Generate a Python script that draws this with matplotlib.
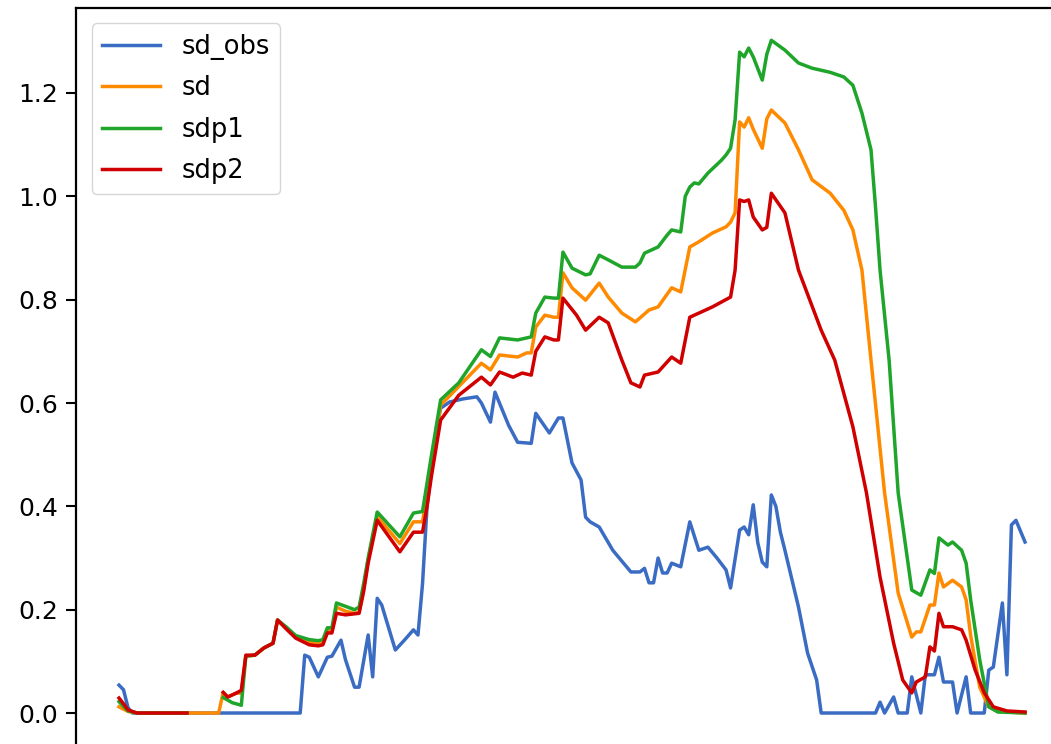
import numpy as np
import matplotlib
matplotlib.use("Agg")
import matplotlib.pyplot as plt

# Observed snow depth (day index, value)
obs_day = [0, 1, 2, 3, 40, 41, 42, 44, 46, 47, 49, 50, 52, 53, 55, 56, 57, 58, 61, 63,
           65, 66, 67, 68, 70, 71, 73, 76, 79, 80, 82, 83, 86, 88, 91, 92, 95, 97, 98, 100,
           102, 103, 104, 106, 109, 113, 115, 116, 117, 118, 119, 120, 121, 122, 124, 126, 128, 130, 132, 134,
           135, 137, 138, 139, 140, 141, 142, 143, 144, 145, 146, 147, 150, 152, 154, 155, 167, 168, 169, 171,
           172, 174, 175, 177, 178, 180, 181, 182, 184, 185, 187, 188, 191, 192, 193, 195, 196, 197, 198, 200]
sd_obs = [0.054, 0.045, 0.010, 0.0, 0.0, 0.112, 0.108, 0.070, 0.108, 0.110, 0.141, 0.103, 0.050, 0.050, 0.151, 0.070, 0.222, 0.209, 0.122, 0.141,
          0.161, 0.151, 0.250, 0.400, 0.548, 0.590, 0.602, 0.608, 0.612, 0.600, 0.563, 0.621, 0.557, 0.524, 0.522, 0.580, 0.542, 0.571, 0.571, 0.484,
          0.451, 0.379, 0.370, 0.360, 0.315, 0.273, 0.273, 0.280, 0.252, 0.252, 0.300, 0.271, 0.271, 0.290, 0.283, 0.370, 0.315, 0.321, 0.300, 0.277,
          0.242, 0.354, 0.360, 0.345, 0.403, 0.330, 0.292, 0.283, 0.422, 0.400, 0.350, 0.315, 0.205, 0.116, 0.064, 0.0, 0.0, 0.021, 0.0, 0.031,
          0.0, 0.0, 0.070, 0.0, 0.074, 0.074, 0.108, 0.060, 0.060, 0.0, 0.070, 0.0, 0.0, 0.083, 0.089, 0.213, 0.074, 0.364, 0.373, 0.331]

# Simulated snow depth
sd_day = [0, 2, 4, 22, 23, 24, 26, 27, 28, 30, 32, 34, 35, 37, 39, 42, 44, 45, 46, 47,
          48, 50, 52, 53, 54, 55, 57, 62, 65, 67, 69, 71, 80, 82, 84, 88, 90, 91, 92, 94,
          96, 97, 98, 100, 103, 104, 106, 108, 111, 114, 117, 119, 122, 124, 126, 128, 131, 134, 135, 136,
          137, 138, 139, 140, 142, 143, 144, 147, 150, 153, 157, 160, 162, 164, 166, 169, 172, 175, 176, 177,
          179, 180, 181, 182, 184, 186, 187, 188, 190, 192, 194, 200]
sd = [0.012, 0.003, 0.0, 0.0, 0.040, 0.031, 0.039, 0.038, 0.110, 0.112, 0.126, 0.135, 0.180, 0.164, 0.147, 0.137, 0.134, 0.136, 0.160, 0.160,
      0.205, 0.197, 0.193, 0.195, 0.240, 0.296, 0.380, 0.328, 0.370, 0.370, 0.480, 0.596, 0.677, 0.664, 0.693, 0.689, 0.697, 0.697, 0.747, 0.770,
      0.766, 0.766, 0.852, 0.823, 0.799, 0.810, 0.832, 0.805, 0.774, 0.757, 0.780, 0.786, 0.823, 0.815, 0.902, 0.912, 0.929, 0.941, 0.950, 0.968,
      1.144, 1.134, 1.152, 1.130, 1.093, 1.150, 1.167, 1.142, 1.090, 1.032, 1.006, 0.973, 0.935, 0.857, 0.683, 0.426, 0.232, 0.147, 0.157, 0.157,
      0.209, 0.209, 0.271, 0.244, 0.257, 0.244, 0.219, 0.150, 0.050, 0.012, 0.003, 0.0]

# Perturbed run 1 (gap where no output exists)
sdp1_day = [0, 2, 4, 15, 19, 23, 25, 27, 28, 30, 32, 34, 35, 37, 39, 42, 44, 45, 46, 47,
            48, 52, 53, 54, 55, 57, 62, 65, 67, 69, 71, 75, 80, 82, 84, 88, 91, 92, 94, 96,
            97, 98, 100, 103, 104, 106, 108, 111, 114, 115, 116, 119, 121, 122, 124, 125, 126, 127, 128, 130,
            133, 134, 135, 136, 137, 138, 139, 140, 142, 143, 144, 147, 150, 153, 157, 160, 162, 164, 166, 167,
            168, 170, 172, 175, 177, 179, 180, 181, 183, 184, 186, 187, 188, 190, 192, 194, 200]
sdp1 = [0.022, 0.004, 0.0, 0.0, np.nan, 0.030, 0.020, 0.015, 0.110, 0.112, 0.126, 0.135, 0.180, 0.166, 0.150, 0.142, 0.140, 0.142, 0.165, 0.165,
        0.213, 0.200, 0.205, 0.250, 0.300, 0.389, 0.341, 0.387, 0.390, 0.500, 0.606, 0.639, 0.703, 0.690, 0.726, 0.722, 0.728, 0.774, 0.805, 0.803,
        0.803, 0.892, 0.861, 0.848, 0.850, 0.886, 0.877, 0.863, 0.863, 0.871, 0.890, 0.902, 0.925, 0.935, 0.931, 1.000, 1.018, 1.026, 1.024, 1.045,
        1.070, 1.080, 1.093, 1.148, 1.279, 1.270, 1.287, 1.270, 1.225, 1.275, 1.302, 1.283, 1.258, 1.248, 1.240, 1.231, 1.215, 1.161, 1.090, 0.979,
        0.857, 0.683, 0.426, 0.238, 0.228, 0.277, 0.270, 0.339, 0.325, 0.331, 0.315, 0.290, 0.219, 0.103, 0.012, 0.002, 0.0]

# Perturbed run 2 (gap where no output exists)
sdp2_day = [0, 1, 2, 4, 15, 19, 23, 24, 26, 27, 28, 30, 32, 34, 35, 37, 39, 42, 44, 45,
            46, 47, 48, 50, 53, 54, 55, 57, 62, 65, 67, 68, 69, 71, 75, 80, 82, 84, 87, 89,
            91, 92, 94, 96, 97, 98, 101, 103, 106, 108, 111, 113, 115, 116, 119, 122, 124, 126, 128, 131,
            135, 136, 137, 138, 139, 140, 142, 143, 144, 147, 150, 155, 158, 162, 165, 168, 171, 173, 175, 176,
            178, 179, 180, 181, 182, 184, 186, 187, 189, 191, 193, 196, 200]
sdp2 = [0.029, 0.018, 0.006, 0.0, 0.0, np.nan, 0.040, 0.031, 0.039, 0.044, 0.112, 0.112, 0.126, 0.135, 0.180, 0.162, 0.145, 0.132, 0.130, 0.132,
        0.155, 0.155, 0.193, 0.190, 0.193, 0.235, 0.290, 0.373, 0.312, 0.350, 0.350, 0.400, 0.460, 0.567, 0.615, 0.650, 0.635, 0.660, 0.650, 0.658,
        0.654, 0.700, 0.728, 0.722, 0.722, 0.803, 0.770, 0.741, 0.766, 0.755, 0.683, 0.639, 0.631, 0.654, 0.660, 0.689, 0.677, 0.766, 0.774, 0.786,
        0.805, 0.857, 0.993, 0.990, 0.993, 0.960, 0.935, 0.940, 1.006, 0.968, 0.857, 0.741, 0.683, 0.554, 0.426, 0.263, 0.135, 0.064, 0.039, 0.060,
        0.070, 0.128, 0.120, 0.193, 0.167, 0.167, 0.161, 0.141, 0.083, 0.039, 0.012, 0.004, 0.002]

fig = plt.figure(figsize=(10.51, 7.44), dpi=100)
ax = fig.add_axes([0.0727, -0.0035, 0.9431, 0.99275])

lw = 2.5
ax.plot(obs_day, sd_obs, color="#3b6cc4", lw=lw, label="sd_obs")
ax.plot(sd_day, sd, color="#ff8a00", lw=lw, label="sd")
ax.plot(sdp1_day, sdp1, color="#1ea52a", lw=lw, label="sdp1")
ax.plot(sdp2_day, sdp2, color="#d00000", lw=lw, label="sdp2")

ax.set_xlim(-9.4, 209.4)
ax.set_ylim(-0.065, 1.3645)
ax.set_yticks([0.0, 0.2, 0.4, 0.6, 0.8, 1.0, 1.2])
ax.set_xticks([0, 30, 60, 90, 120, 150, 180])
ax.tick_params(axis="both", labelsize=18, length=7, width=1.5, pad=6)
ax.tick_params(axis="x", labelbottom=False)
for sp in ax.spines.values():
    sp.set_linewidth(1.6)

ax.legend(loc="upper left", fontsize=18.5, handlelength=2.25, handletextpad=0.85,
          borderaxespad=0.6, labelspacing=0.6)

fig.savefig("out.png", dpi=100)
